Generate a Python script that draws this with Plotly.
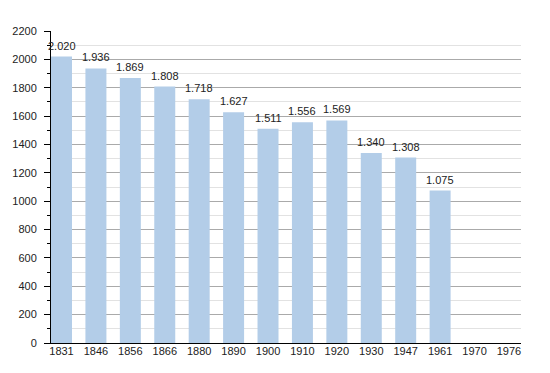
import plotly.graph_objects as go

years = ["1831", "1846", "1856", "1866", "1880", "1890", "1900", "1910", "1920", "1930", "1947", "1961", "1970", "1976"]
population = [2020, 1936, 1869, 1808, 1718, 1627, 1511, 1556, 1569, 1340, 1308, 1075, None, None]
labels = ["2.020", "1.936", "1.869", "1.808", "1.718", "1.627", "1.511", "1.556", "1.569", "1.340", "1.308", "1.075", "", ""]
y_ticks = list(range(0, 2201, 200))

fig = go.Figure()
fig.add_trace(go.Bar(
    x=years, y=population,
    marker=dict(color="#b3cde8", line=dict(width=0)),
    width=0.61,
))
for i, (val, lab) in enumerate(zip(population, labels)):
    if val is None:
        continue
    # category axis: position given by category index
    fig.add_annotation(x=i, y=val, text=lab, showarrow=False,
                       yanchor="bottom", yshift=3,
                       font=dict(size=11, color="#222"))
# page body has an 8px default margin; compensate so the plot area lands where the reference has it
fig.update_layout(
    width=542, height=365,
    margin=dict(l=43, r=29, t=23, b=30, autoexpand=False),
    paper_bgcolor="white", plot_bgcolor="white",
    font=dict(family="Liberation Sans, Arial, sans-serif", size=11, color="#222"),
    showlegend=False,
)
fig.update_xaxes(
    type="category", range=[-0.305, 13.35], automargin=False,
    showline=True, linecolor="black", linewidth=1,
    ticks="", showgrid=False, tickfont=dict(size=11),
    ticklabelstandoff=-2,
)
fig.update_yaxes(
    range=[0, 2200], tickvals=y_ticks, automargin=False,
    showline=True, linecolor="black", linewidth=1,
    ticks="outside", ticklen=6, tickcolor="black",
    ticklabelstandoff=5,
    showgrid=True, gridcolor="#aaaaaa", gridwidth=1,
    minor=dict(dtick=100, showgrid=True, gridcolor="#e2e2e2", ticks="outside", ticklen=3, tickcolor="black"),
    zeroline=False, tickfont=dict(size=11),
)
fig.write_html("out.html")
